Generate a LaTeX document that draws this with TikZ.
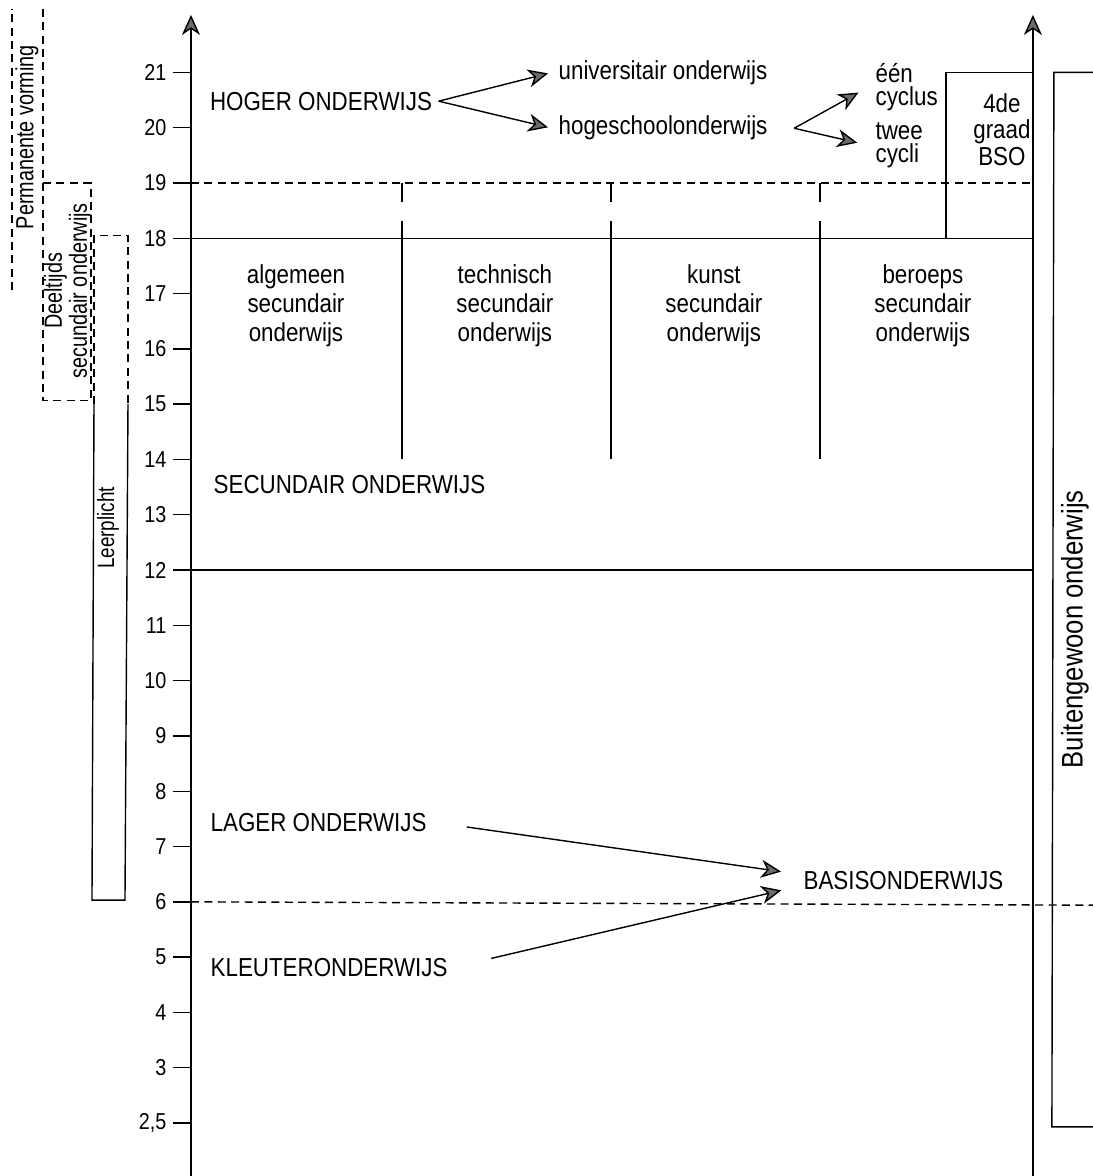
\documentclass[tikz,border=0pt]{standalone}
\usepackage{fontspec}
\setmainfont[FakeStretch=0.86]{Liberation Sans}
\newfontfamily\sidefont[FakeStretch=0.8]{Liberation Sans}
\usetikzlibrary{arrows.meta, positioning}

\begin{document}
\begin{tikzpicture}[x=0.5pt, y=27.65pt, line width=0.7pt, >={Stealth[length=10pt, width=9pt, inset=3pt, fill=gray!85!black]}, node distance=104.5pt, inner sep=3pt, txt/.style={font=\fontsize{13}{14.3}\selectfont}, col/.style={txt, align=center}, tight/.style={align=left, anchor=west, font=\fontsize{13}{11.5}\selectfont}, age/.style={font=\fontsize{11.5}{12}\selectfont, anchor=east}, side/.style={rotate=90, align=center, font=\sidefont\fontsize{12.4}{10}\selectfont}, stip/.style={dash pattern=on 4pt off 2.7pt}]
  \useasboundingbox (0,-0.958) rectangle (1093,20.31);

  \draw[->] (191,-0.96) -- (191,20.04);
  \draw[->] (1033,-0.96) -- (1033,20.04);
  \foreach \i [evaluate=\i as \a using int(\i+2)] in {1,...,19}
    \draw (173,\i) -- (191,\i) node[age] at (173,\i) {\a};
  \draw (173,0) -- (191,0) node[age] at (173,0) {2,5};

  \draw (191,16) -- (1033,16);
  \draw (191,10) -- (1033,10);
  \draw[stip] (191,17) -- (1033,17);
  \draw[stip] (191,4) -- (1093,3.94);
  \foreach \x in {402,611,820} {
    \draw (\x,17) -- (\x,16.65);
    \draw (\x,16.31) -- (\x,12);
  }
  \draw (946,16) -- (946,19) -- (1033,19);
  \draw (1093,19) -- (1054,19) -- (1052,-0.07) -- (1093,-0.07);

  \draw[stip] (12,15.06) -- (12,20.15);
  \draw[stip] (43,20.15) -- (43,13.07) -- (91,13.07) -- (91,17) -- (43,17);
  \draw[stip] (94,13) -- (94,16.05) -- (128,16.05) -- (128,13);
  \draw (94,13) -- (92,4.03) -- (125,4.03) -- (128,13);

  \node[side] (perm) at (27,17.83) {Permanente vorming};
  \node[side] (dso) at (68,15.05) {Deeltijds\\secundair onderwijs};
  \node[side, font=\sidefont\fontsize{11.8}{12}\selectfont] (leer) at (108,10.76) {Leerplicht};
  \node[side, font=\fontsize{14.9}{16}\selectfont] (buo) at (1075,8.93) {Buitengewoon onderwijs};

  \node[txt] (hoger) at (321,18.48) {HOGER ONDERWIJS};
  \node[txt, anchor=west] (univ) at (552,19.0) {universitair onderwijs};
  \node[txt, anchor=west] (hoge) at (552,17.99) {hogeschoolonderwijs};
  \node[tight] (een) at (869,18.74) {één\\cyclus};
  \node[tight] (twee) at (869,17.68) {twee\\cycli};
  \node[col, font=\fontsize{13}{13.3}\selectfont] (bso4) at (1002,17.97) {4de\\graad\\BSO};
  \coordinate (fork) at ([xshift=10pt]hoge.east);

  \node[col] (aso) at (296,14.78) {algemeen\\secundair\\onderwijs};
  \node[col] (tso) [right of=aso] {technisch\\secundair\\onderwijs};
  \node[col] (kso) [right of=tso] {kunst\\secundair\\onderwijs};
  \node[col] (bso) [right of=kso] {beroeps\\secundair\\onderwijs};

  \node[txt, anchor=west] (so) at (207,11.54) {SECUNDAIR ONDERWIJS};
  \node[txt, anchor=west] (lager) at (204,5.44) {LAGER ONDERWIJS};
  \node[txt, anchor=west] (kleuter) at (204,2.82) {KLEUTERONDERWIJS};
  \node[txt, anchor=west] (basis) at (797,4.39) {BASISONDERWIJS};

  \path[->]
        (hoger.east)   edge [shorten >=2pt] (univ.west)
                       edge [shorten >=2pt] (hoge.west)
        (fork)         edge [shorten >=6pt] (een.west)
                       edge [shorten >=6pt] (twee.west)
        (lager.east)   edge [shorten <=17pt, shorten >=8pt] ([yshift=3.2pt]basis.west)
        (kleuter.east) edge [shorten <=19pt, shorten >=8pt] ([yshift=-3.2pt]basis.west)
        ;
\end{tikzpicture}
\end{document}
